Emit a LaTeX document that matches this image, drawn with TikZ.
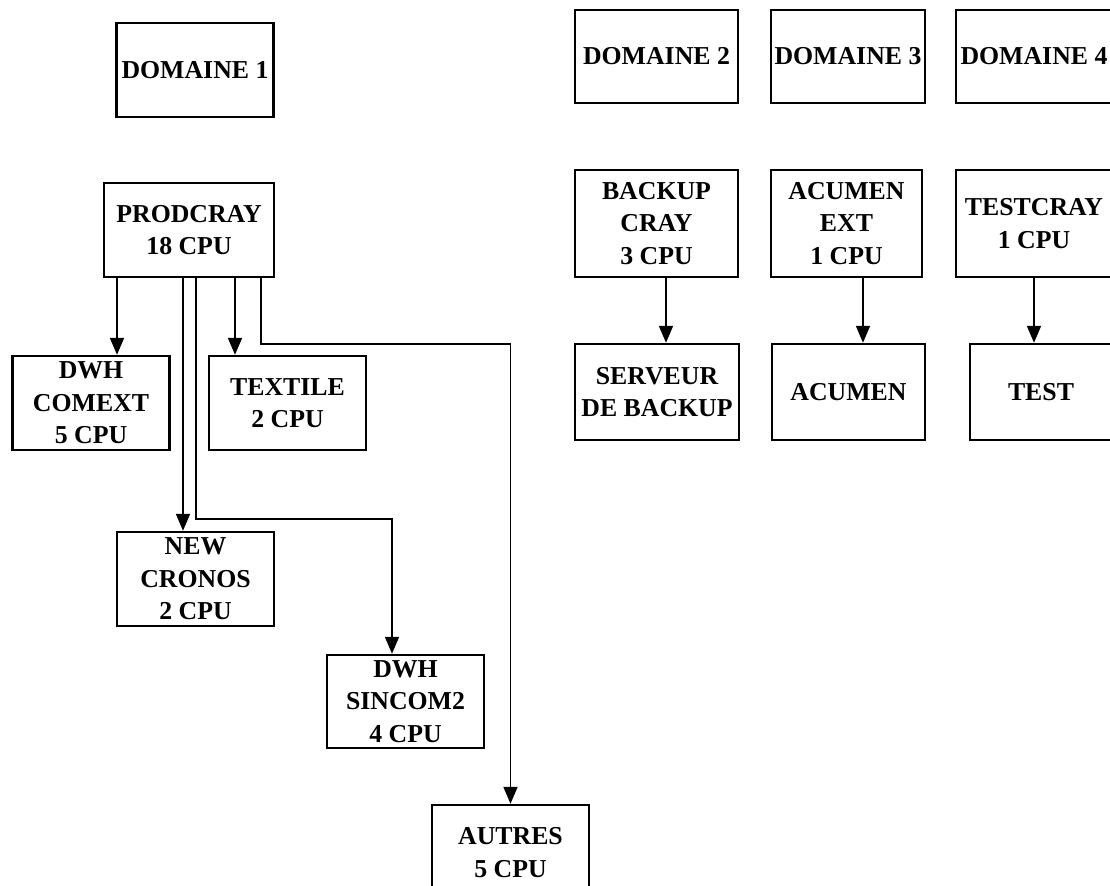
\documentclass[tikz,border=0pt]{standalone}
\usepackage{fontspec}
\setmainfont{Liberation Serif}
\usetikzlibrary{arrows.meta,calc}

\begin{document}
\begin{tikzpicture}[x=0.5pt,y=-0.5pt,
    cpubox/.style={draw, line width=1.2pt, inner sep=0pt, align=center,
        font=\fontsize{12.9}{16.25}\selectfont\bfseries,
        minimum width=78.5pt, minimum height=47pt},
    link/.style={->, line width=.9pt},
    >={Triangle[length=8.5pt,width=7pt]}]
    \useasboundingbox (0,0) rectangle (1110,885);

    % domaines
    \node[cpubox] (dom1) at (195,70) {DOMAINE 1};
    \node[cpubox, minimum width=81.5pt, minimum height=46.5pt] (dom2) at (656.5,56.5) {DOMAINE 2};
    \node[cpubox, minimum width=77pt, minimum height=46.5pt] (dom3) at (848,56.5) {DOMAINE 3};
    \node[cpubox, minimum width=78pt, minimum height=46.5pt] (dom4) at (1034,56.5) {DOMAINE 4};

    % domaine 1
    \node[cpubox, minimum width=85pt] (prod) at (189,230) {PRODCRAY\\18 CPU};
    \node[cpubox] (comext) at (91,403) {DWH\\COMEXT\\5 CPU};
    \node[cpubox] (textile) at (287.5,403) {TEXTILE\\2 CPU};
    \node[cpubox] (cronos) at (195.5,579) {NEW\\CRONOS\\2 CPU};
    \node[cpubox, minimum height=46.5pt] (sincom) at (405.5,701.5) {DWH\\SINCOM2\\4 CPU};
    \node[cpubox, minimum height=47.5pt] (autres) at (510.5,852.5) {AUTRES\\5 CPU};

    % domaines 2 a 4
    \node[cpubox, minimum width=81.5pt, minimum height=53.5pt] (backup) at (656.5,223.5) {BACKUP\\CRAY\\3 CPU};
    \node[cpubox, minimum width=75.5pt, minimum height=53.5pt] (acuext) at (846.5,223.5) {ACUMEN\\EXT\\1 CPU};
    \node[cpubox, minimum width=78pt, minimum height=53.5pt] (testcray) at (1034,223.5) {TESTCRAY\\1 CPU};
    \node[cpubox, minimum width=82pt, minimum height=48pt] (serveur) at (657,392) {SERVEUR\\DE BACKUP};
    \node[cpubox, minimum width=76.5pt, minimum height=48pt] (acumen) at (848.5,392) {ACUMEN};
    \node[cpubox, minimum width=71pt, minimum height=48pt] (test) at (1041,392) {TEST};

    \coordinate (p1) at ($(prod.south)+(-72,0)$);
    \coordinate (p2) at ($(prod.south)+(-6,0)$);
    \coordinate (p3) at ($(prod.south)+(7,0)$);
    \coordinate (p4) at ($(prod.south)+(46,0)$);
    \coordinate (p5) at ($(prod.south)+(72,0)$);
    \coordinate (q3) at ($(sincom.north)+(-13.5,0)$);

    \draw[link] (p1) -- (p1 |- comext.north);
    \draw[link] (p2) -- (p2 |- cronos.north);
    \draw[link] (p3) -- (p3 |- 0,519) -| (q3);
    \draw[link] (p4) -- (p4 |- textile.north);
    \draw[link] (p5) -- (p5 |- 0,344) -| (autres.north);

    \coordinate (b1) at ($(backup.south)+(9.5,0)$);
    \coordinate (b2) at ($(acuext.south)+(16.5,0)$);
    \draw[link] (b1) -- (b1 |- serveur.north);
    \draw[link] (b2) -- (b2 |- acumen.north);
    \draw[link] (testcray.south) -- (testcray.south |- test.north);

\end{tikzpicture}
\end{document}
